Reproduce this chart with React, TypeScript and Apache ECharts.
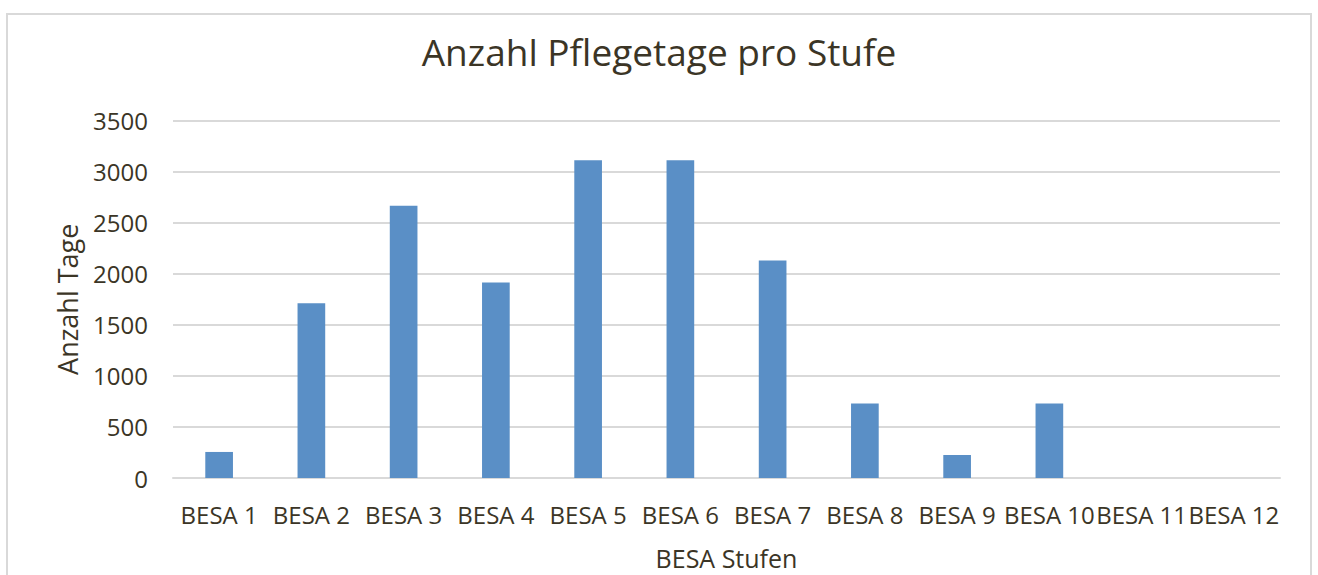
import React, { useEffect, useRef } from "react";
import * as echarts from "echarts";

const categories = ["BESA 1", "BESA 2", "BESA 3", "BESA 4", "BESA 5", "BESA 6", "BESA 7", "BESA 8", "BESA 9", "BESA 10", "BESA 11", "BESA 12"];
const values = [255, 1710, 2665, 1915, 3110, 3110, 2130, 730, 225, 730, 0, 0];
const titleText = "Anzahl Pflegetage pro Stufe";
const xAxisName = "BESA Stufen";
const yAxisName = "Anzahl Tage";

const FONT = "'Open Sans', Lato, sans-serif";
const TEXT = "#3b3526";

export default function App() {
  const ref = useRef<HTMLDivElement>(null);
  useEffect(() => {
    if (!ref.current) return;
    const chart = echarts.init(ref.current, null, { renderer: "svg" });
    chart.setOption({
      animation: false,
      backgroundColor: "#ffffff",
      title: {
        text: titleText,
        left: "center",
        top: 28,
        textStyle: { fontFamily: FONT, fontSize: 37, fontWeight: "normal", color: TEXT },
      },
      graphic: [
        {
          type: "rect",
          shape: { x: 7, y: 14, width: 1304, height: 620 },
          style: { fill: "none", stroke: "#d9d9d9", lineWidth: 2 },
          silent: true,
        },
      ],
      grid: { left: 173, right: 38, top: 120.5, bottom: 95 },
      xAxis: {
        type: "category",
        data: categories,
        name: xAxisName,
        nameLocation: "middle",
        nameGap: 67,
        nameTextStyle: { fontFamily: FONT, fontSize: 25, color: TEXT },
        axisLine: { show: true, lineStyle: { color: "#d9d9d9", width: 2 } },
        axisTick: { show: false },
        axisLabel: { interval: 0, margin: 24, fontFamily: FONT, fontSize: 24, color: TEXT },
      },
      yAxis: {
        type: "value",
        min: 0,
        max: 3500,
        interval: 500,
        name: yAxisName,
        nameLocation: "middle",
        nameGap: 92,
        nameTextStyle: { fontFamily: FONT, fontSize: 27, color: TEXT },
        axisLine: { show: false },
        axisTick: { show: false },
        axisLabel: { margin: 25, fontFamily: FONT, fontSize: 24, color: TEXT, formatter: (v: number) => String(v) },
        splitLine: { lineStyle: { color: "#d9d9d9", width: 2 } },
      },
      series: [
        {
          type: "bar",
          data: values,
          barWidth: "30%",
          itemStyle: { color: "#5a8fc6" },
        },
      ],
    });
    return () => chart.dispose();
  }, []);
  return <div ref={ref} style={{ position: "fixed", left: 0, top: 0, width: 1318, height: 575 }} />;
}
